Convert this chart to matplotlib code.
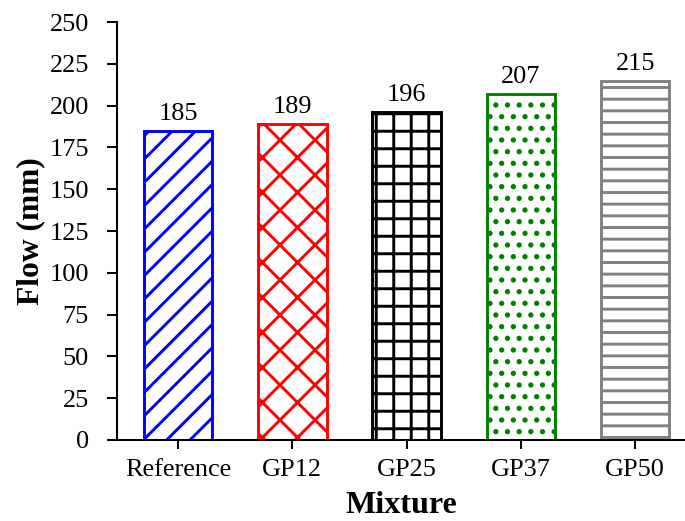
import matplotlib
matplotlib.use("Agg")
import matplotlib.pyplot as plt

# data
mixtures = ['Reference', 'GP12', 'GP25', 'GP37', 'GP50']
flow = [185, 189, 196, 207, 215]
edge_colors = ['#0000FF', '#FF0000', '#000000', '#008000', '#808080']
hatches = ['//////', 'xxxx', '++++', '......', '------']
yticks = [0, 25, 50, 75, 100, 125, 150, 175, 200, 225, 250]

# high dpi so the hatch unit (1 inch) gives the right spacing
DPI = 420
plt.rcParams['font.family'] = ['Liberation Serif', 'DejaVu Serif']
plt.rcParams['hatch.linewidth'] = 0.5
F = 4.5

fig = plt.figure(figsize=(685 / DPI, 521 / DPI), dpi=DPI)
ax = fig.add_axes([117 / 685, 1 - 440 / 521, 568 / 685, 418 / 521])

bars = ax.bar(range(len(mixtures)), flow, width=0.6, color='white',
              edgecolor=edge_colors, linewidth=0.5)
for b, h, c in zip(bars, hatches, edge_colors):
    b.set_hatch(h)
    b.set_edgecolor(c)

ax.bar_label(bars, labels=[str(v) for v in flow], padding=1.0, fontsize=F)

ax.set_xlim(-0.534, 4.436)
ax.set_ylim(0, 250)
ax.set_yticks(yticks)
ax.set_xticks(range(len(mixtures)))
ax.set_xticklabels(mixtures)

for side in ['top', 'right']:
    ax.spines[side].set_visible(False)
for side in ['left', 'bottom']:
    ax.spines[side].set_linewidth(0.35)

ax.tick_params(axis='y', direction='out', length=1.8, width=0.35, pad=3, labelsize=F)
ax.tick_params(axis='x', direction='out', length=1.6, width=0.35, pad=1.6, labelsize=F)

ax.set_xlabel('Mixture', fontsize=5.5, fontweight='bold', labelpad=1.8)
ax.set_ylabel('Flow (mm)', fontsize=5.4, fontweight='bold', labelpad=0.8)

fig.savefig('out.png', dpi=DPI)
